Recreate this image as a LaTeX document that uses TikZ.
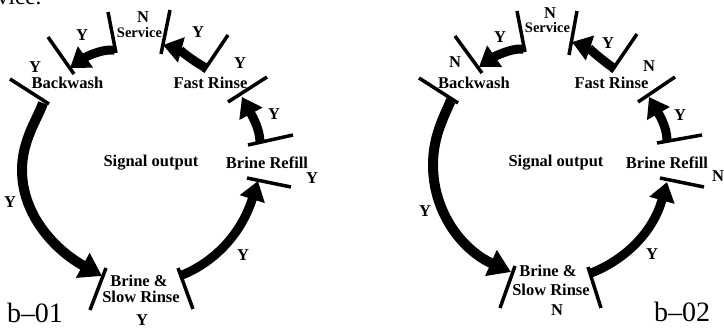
\documentclass[tikz,border=0pt]{standalone}
\usepackage{fontspec}
\setmainfont{Liberation Serif}
\usetikzlibrary{arrows.meta}
\begin{document}
\begin{tikzpicture}[x=1pt,y=-1pt,
  bar/.style={line width=3.5pt},
  flow/.style={line width=9pt,-{Triangle[length=19pt,width=25pt]}},
  bigflow/.style={line width=10pt,-{Triangle[length=22pt,width=27pt]}},
  lbl/.style={font=\bfseries\fontsize{16.5}{16.5}\selectfont, inner sep=0pt},
  svc/.style={font=\bfseries\fontsize{14.5}{14.5}\selectfont, inner sep=0pt},
  big/.style={font=\fontsize{28}{28}\selectfont, inner sep=0pt, anchor=base}]
\useasboundingbox (0,0) rectangle (724,328);
\clip (0,0) rectangle (724,328);

\node[font=\fontsize{23}{23}\selectfont, inner sep=0pt, anchor=base west] (cut) at (-3,5) {vice.};

% ================= LEFT (b-01) =================
\coordinate (lB1a) at (10,79);   \coordinate (lB1b) at (49,104);
\coordinate (lB2a) at (48,37);   \coordinate (lB2b) at (74,74);
\coordinate (lS1a) at (108,12);  \coordinate (lS1b) at (116,53);
\coordinate (lS2a) at (170,10);  \coordinate (lS2b) at (161,54);
\coordinate (lF1a) at (228,35);  \coordinate (lF1b) at (203,72);
\coordinate (lF2a) at (228,102); \coordinate (lF2b) at (267,77);
\coordinate (lR1a) at (248,145); \coordinate (lR1b) at (293,135);
\coordinate (lR2a) at (247,178); \coordinate (lR2b) at (291,187);
\coordinate (lL1a) at (106,268); \coordinate (lL1b) at (90,310);
\coordinate (lL2a) at (178,268); \coordinate (lL2b) at (193,309);
\foreach \b in {B1,B2,S1,S2,F1,F2,R1,R2,L1,L2}
  \draw[bar] (l\b a) -- (l\b b);

\coordinate (lA1s) at (114,50);  \coordinate (lA1e) at (70,68);
\coordinate (lA2s) at (206,68);  \coordinate (lA2e) at (163,45);
\coordinate (lA3s) at (260,142); \coordinate (lA3e) at (242,97);
\coordinate (lA4s) at (182,275); \coordinate (lA4e) at (258,181);
\coordinate (lA5s) at (43,103);  \coordinate (lA5m) at (22,170); \coordinate (lA5e) at (102,276);
\draw[flow] (lA1s) .. controls (100,49) and (84,58) .. (lA1e);
\draw[flow] (lA2s) .. controls (193,61) and (178,49) .. (lA2e);
\draw[flow] (lA3s) .. controls (260,128) and (250,112) .. (lA3e);
\draw[flow] (lA4s) .. controls (210,264) and (240,238) .. (lA4e);
\draw[bigflow] (lA5s) .. controls (38,118) and (22,140) .. (lA5m)
   .. controls (22,215) and (55,250) .. (lA5e);

\node[lbl] (lSN) at (143,17) {N};
\node[svc] (lSv) at (139.5,33) {Service};
\node[lbl] (lY1) at (82,35) {Y};
\node[lbl] (lY2) at (35,67) {Y};
\node[lbl] (lBw) at (67.5,83) {Backwash};
\node[lbl] (lY3) at (198,32) {Y};
\node[lbl] (lY4) at (240,63) {Y};
\node[lbl] (lFR) at (210.5,83) {Fast Rinse};
\node[lbl] (lY5) at (274,114) {Y};
\node[lbl] (lSO) at (151,163) {Signal output};
\node[lbl] (lBR) at (267,163) {Brine Refill};
\node[lbl] (lY6) at (312,178) {Y};
\node[lbl] (lY7) at (10,202) {Y};
\node[lbl] (lY8) at (243,255) {Y};
\node[lbl] (lBS1) at (139,281) {Brine \&};
\node[lbl] (lBS2) at (141,297) {Slow Rinse};
\node[lbl] (lY9) at (142,320) {Y};
\node[big] (lT) at (35,323) {b–01};

% ================= RIGHT (b-02) =================
\coordinate (rB1a) at (419,78);  \coordinate (rB1b) at (458,103);
\coordinate (rB2a) at (455,36);  \coordinate (rB2b) at (482,73);
\coordinate (rS1a) at (517,11);  \coordinate (rS1b) at (525,52);
\coordinate (rS2a) at (577,11);  \coordinate (rS2b) at (569,55);
\coordinate (rF1a) at (637,34);  \coordinate (rF1b) at (611,72);
\coordinate (rF2a) at (638,102); \coordinate (rF2b) at (675,77);
\coordinate (rR1a) at (657,143); \coordinate (rR1b) at (702,135);
\coordinate (rR2a) at (660,178); \coordinate (rR2b) at (704,187);
\coordinate (rL1a) at (515,266); \coordinate (rL1b) at (500,308);
\coordinate (rL2a) at (588,267); \coordinate (rL2b) at (601,308);
\foreach \b in {B1,B2,S1,S2,F1,F2,R1,R2,L1,L2}
  \draw[bar] (r\b a) -- (r\b b);

\coordinate (rA1s) at (523,49);  \coordinate (rA1e) at (479,67);
\coordinate (rA2s) at (615,69);  \coordinate (rA2e) at (572,42);
\coordinate (rA3s) at (667,140); \coordinate (rA3e) at (649,97);
\coordinate (rA4s) at (591,273); \coordinate (rA4e) at (667,182);
\coordinate (rA5s) at (451,100); \coordinate (rA5m) at (433,165); \coordinate (rA5e) at (511,272);
\draw[flow] (rA1s) .. controls (510,48) and (492,58) .. (rA1e);
\draw[flow] (rA2s) .. controls (603,61) and (587,47) .. (rA2e);
\draw[flow] (rA3s) .. controls (667,126) and (657,111) .. (rA3e);
\draw[flow] (rA4s) .. controls (620,262) and (652,236) .. (rA4e);
\draw[bigflow] (rA5s) .. controls (445,115) and (433,135) .. (rA5m)
   .. controls (433,212) and (462,250) .. (rA5e);

\node[lbl] (rSN) at (550,13) {N};
\node[svc] (rSv) at (547.5,28) {Service};
\node[lbl] (rY1) at (500,37) {Y};
\node[lbl] (rN2) at (455,62) {N};
\node[lbl] (rBw) at (474,83) {Backwash};
\node[lbl] (rY3) at (608,43) {Y};
\node[lbl] (rN4) at (649,66) {N};
\node[lbl] (rFR) at (611.5,83) {Fast Rinse};
\node[lbl] (rY5) at (680,115) {Y};
\node[lbl] (rSO) at (556,163) {Signal output};
\node[lbl] (rBR) at (667,163) {Brine Refill};
\node[lbl] (rN6) at (718,176) {N};
\node[lbl] (rY7) at (425,211) {Y};
\node[lbl] (rY8) at (652,254) {Y};
\node[lbl] (rBS1) at (548,271) {Brine \&};
\node[lbl] (rBS2) at (551,290) {Slow Rinse};
\node[lbl] (rN9) at (557,310) {N};
\node[big] (rT) at (682,322) {b–02};
\end{tikzpicture}
\end{document}
